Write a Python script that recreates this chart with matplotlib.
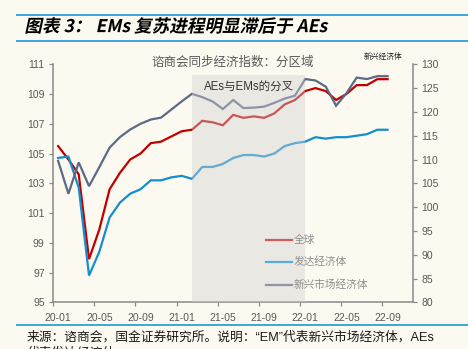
import matplotlib
matplotlib.use("Agg")
import matplotlib.pyplot as plt
from matplotlib.lines import Line2D
from matplotlib.patches import Rectangle, PathPatch
from matplotlib.textpath import TextPath
from matplotlib.font_manager import FontProperties
from matplotlib.transforms import Affine2D, blended_transform_factory

plt.rcParams['font.family'] = ['Liberation Sans', 'Noto Sans CJK SC', 'DejaVu Sans']

# Monthly index values, 2020-01 .. 2022-09
months = ['20-01', '20-02', '20-03', '20-04', '20-05', '20-06', '20-07', '20-08',
          '20-09', '20-10', '20-11', '20-12', '21-01', '21-02', '21-03', '21-04',
          '21-05', '21-06', '21-07', '21-08', '21-09', '21-10', '21-11', '21-12',
          '22-01', '22-02', '22-03', '22-04', '22-05', '22-06', '22-07', '22-08',
          '22-09']
global_idx = [105.5, 104.6, 103.6, 97.9, 99.9, 102.6, 103.7, 104.6, 105.0, 105.7,
              105.8, 106.15, 106.5, 106.6, 107.2, 107.1, 106.9, 107.6, 107.4, 107.5,
              107.4, 107.7, 108.3, 108.6, 109.2, 109.4, 109.2, 108.6, 109.0, 109.6,
              109.6, 110.0, 110.0]
advanced_idx = [104.7, 104.8, 102.7, 96.8, 98.4, 100.7, 101.7, 102.3, 102.6, 103.2,
                103.2, 103.4, 103.5, 103.3, 104.1, 104.1, 104.3, 104.7, 104.9, 104.9,
                104.8, 105.0, 105.5, 105.7, 105.8, 106.1, 106.0, 106.1, 106.1, 106.2,
                106.3, 106.6, 106.6]
# Emerging economies, plotted on the right-hand axis
emerging_idx = [109.7, 102.8, 109.4, 104.4, 108.4, 112.5, 114.7, 116.3, 117.5, 118.4,
                118.8, 120.5, 122.2, 123.8, 123.1, 122.2, 120.6, 122.5, 120.8, 120.9,
                121.1, 121.9, 122.8, 123.4, 126.9, 126.6, 125.3, 121.3, 123.9, 127.2,
                126.9, 127.5, 127.5]
series_names = ['全球', '发达经济体', '新兴市场经济体']
left_ticks = [95, 97, 99, 101, 103, 105, 107, 109, 111]
right_ticks = [80, 85, 90, 95, 100, 105, 110, 115, 120, 125, 130]
shade_span = ('21-02', '22-01')

W, H = 468, 349
BG = '#fcf9f0'
RED, BLUE, GRAY = '#c00000', '#138fcf', '#5b6a86'
AX_COL = '#8a8a8a'
TXT = '#595959'

fig = plt.figure(figsize=(W / 100, H / 100), dpi=100, facecolor=BG)


def fx(px):
    return px / W


def fy(py):
    return 1 - py / H


# Header / footer rules
for y in (15, 41, 324.5):
    fig.add_artist(Line2D([fx(17), 1], [fy(y), fy(y)], transform=fig.transFigure,
                          color='#3aa6de', lw=1.4))

# Bold italic title built from a sheared text path
title = '图表 3： EMs 复苏进程明显滞后于 AEs'
fp = FontProperties(family='Noto Sans CJK SC', weight='bold')
tp = TextPath((0, 0), title, size=100, prop=fp)
ext = tp.get_extents()
s = 301 / ext.width
tr = (Affine2D().translate(-ext.x0, -(ext.y0 + ext.y1) / 2).scale(s)
      .skew_deg(12, 0).translate(27, H - 25.5).scale(1 / W, 1 / H))
fig.add_artist(PathPatch(tr.transform_path(tp), transform=fig.transFigure,
                         facecolor='black', edgecolor='none'))

# Footer source note
fig.text(fx(27), fy(337), '来源：谘商会，国金证券研究所。说明：“EM”代表新兴市场经济体，AEs',
         fontsize=9.2, color='#1a1a1a', va='center', ha='left')
fig.text(fx(27), fy(354), '代表发达经济体', fontsize=9.2, color='#1a1a1a',
         va='center', ha='left')

# Chart captions
fig.text(fx(233), fy(62.5), '谘商会同步经济指数：分区域', fontsize=9, color=TXT,
         ha='center', va='center')
fig.text(fx(383), fy(56.5), '新兴经济体', fontsize=5.6, color='#222222',
         ha='center', va='center')

ax = fig.add_axes([fx(53), fy(302.3), (413.3 - 53) / W, (302.3 - 64.3) / H])
ax.set_facecolor('none')
x = list(range(len(months)))
ax.plot(x, global_idx, color=RED, lw=1.6, solid_joinstyle='miter')
ax.plot(x, advanced_idx, color=BLUE, lw=1.6, solid_joinstyle='miter')
ax.set_ylim(95, 111)
ax.set_yticks(left_ticks)
ax.set_xlim(-0.5, 34.5)

ax2 = ax.twinx()
ax2.plot(x, emerging_idx, color=GRAY, lw=1.6, solid_joinstyle='miter')
ax2.set_ylim(80, 130)
ax2.set_yticks(right_ticks)

# Category labels at month centres, tick marks at category boundaries
ax.set_xticks(x[::4])
ax.set_xticklabels(months[::4])
ax.set_xticks([i - 0.5 for i in x[::4]], minor=True)
ax.tick_params(axis='x', which='major', length=0, pad=8, labelsize=7.5, labelcolor=TXT)
ax.tick_params(axis='x', which='minor', length=3, width=0.9, color=AX_COL)
ax.tick_params(axis='y', length=3, width=0.9, color=AX_COL, pad=3,
               labelsize=7.5, labelcolor=TXT)
ax2.tick_params(axis='y', length=3, width=0.9, color=AX_COL, pad=3,
                labelsize=7.5, labelcolor=TXT)

for a in (ax, ax2):
    a.spines['top'].set_visible(False)
    for sp in ('left', 'right', 'bottom'):
        a.spines[sp].set_color(AX_COL)
        a.spines[sp].set_linewidth(1.1)
ax.spines['right'].set_visible(False)
ax2.spines['left'].set_visible(False)
ax2.spines['bottom'].set_visible(False)

# Shaded divergence window, laid over the lines
x0 = months.index(shade_span[0])
x1 = months.index(shade_span[1])
bt = blended_transform_factory(ax2.transData, ax2.transAxes)
ax2.add_patch(Rectangle((x0, 0), x1 - x0, 0.955, transform=bt,
                        facecolor='#d2d2d2', alpha=0.42, edgecolor='none', zorder=10))
ax2.text((x0 + x1) / 2, 0.905, 'AEs与EMs的分叉', transform=bt, ha='center',
         va='center', fontsize=8.3, color='#333333', zorder=11)

# Legend rows
leg_cols = ['#cf5c5c', '#56acdc', '#8d96aa']
for name, col, y in zip(series_names, leg_cols, (240, 262, 284.5)):
    fig.add_artist(Line2D([fx(266), fx(292)], [fy(y), fy(y)], transform=fig.transFigure,
                          color=col, lw=1.6))
    fig.text(fx(294), fy(y), name, fontsize=7.7, color='#8e8e8e', ha='left',
             va='center')

fig.savefig('out.png', dpi=100, facecolor=BG)
